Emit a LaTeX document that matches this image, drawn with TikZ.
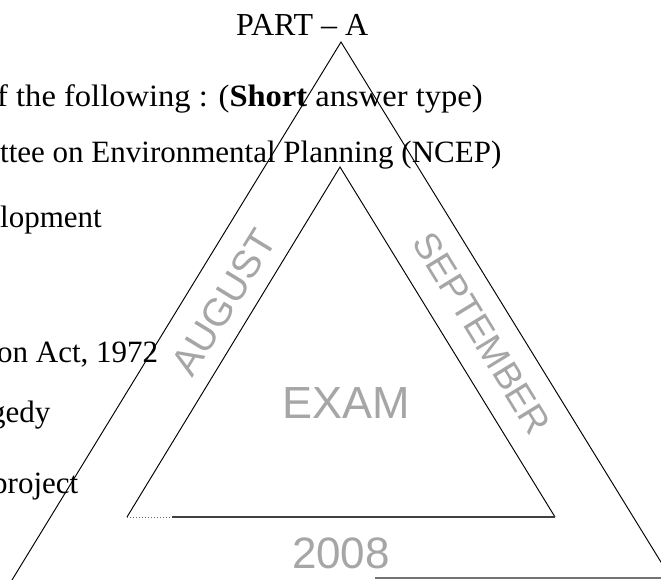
\documentclass[tikz,border=0pt]{standalone}
\usepackage{graphicx}
\usepackage{fontspec}
\setmainfont{Liberation Serif}
\newfontfamily\wmfont{Liberation Sans}
\begin{document}
\begin{tikzpicture}[x=1pt,y=-1pt,
  side/.style={line width=0.95pt},
  body/.style={font=\fontsize{31}{31}\selectfont, anchor=base west, inner sep=0pt},
  wm/.style={text=black!35, inner sep=0pt}]
\useasboundingbox (0,0) rectangle (661,580);
\clip (0,0) rectangle (661,580);
\fill[white] (0,0) rectangle (661,580);
% triangle corners
\coordinate (OA) at (341,42);
\coordinate (OL) at (12,580);
\coordinate (OR) at (672,580);
\coordinate (IA) at (340,167);
\coordinate (IL) at (127,517);
\coordinate (IR) at (555,517);
\coordinate (IS) at (172,517);
\coordinate (BS) at (375,578);
\coordinate (BE) at (672,578);
% outer and inner triangles
\draw[side] (OL) -- (OA) -- (OR);
\draw[side] (IL) -- (IA) -- (IR);
\draw[line width=2pt, black!75] (IS) -- (IR);
\draw[dotted, line width=1pt, black!60] (IL) -- (IS);
\draw[line width=1.3pt, black!55] (BS) -- (BE);
% printed text
\node[body, font=\fontsize{32}{32}\selectfont] (part) at (236,36) {PART \textendash\ A};
\node[body] (l1) at (-3,107) {\scalebox{1.05}[1]{f the following : (\textbf{Short} answer type)}};
\node[body] (l2) at (0,163) {ttee on Environmental Planning (NCEP)};
\node[body] (l3) at (0,228) {lopment};
\node[body] (l4) at (-3,362) {on Act, 1972};
\node[body] (l5) at (-10,422) {gedy};
\node[body] (l6) at (-8,493) {project};
% watermark stamp text
\node[wm, font=\wmfont\fontsize{39}{39}\selectfont, rotate=58.5] (aug) at (224,302) {AUGUST};
\node[wm, font=\wmfont\fontsize{37}{37}\selectfont, rotate=-58.5] (sep) at (482,333) {SEPTEMBER};
\node[wm, font=\wmfont\fontsize{45}{45}\selectfont] (exam) at (346,403) {EXAM};
\node[wm, font=\wmfont\fontsize{44}{44}\selectfont] (yr) at (341,553) {2008};
\end{tikzpicture}
\end{document}
